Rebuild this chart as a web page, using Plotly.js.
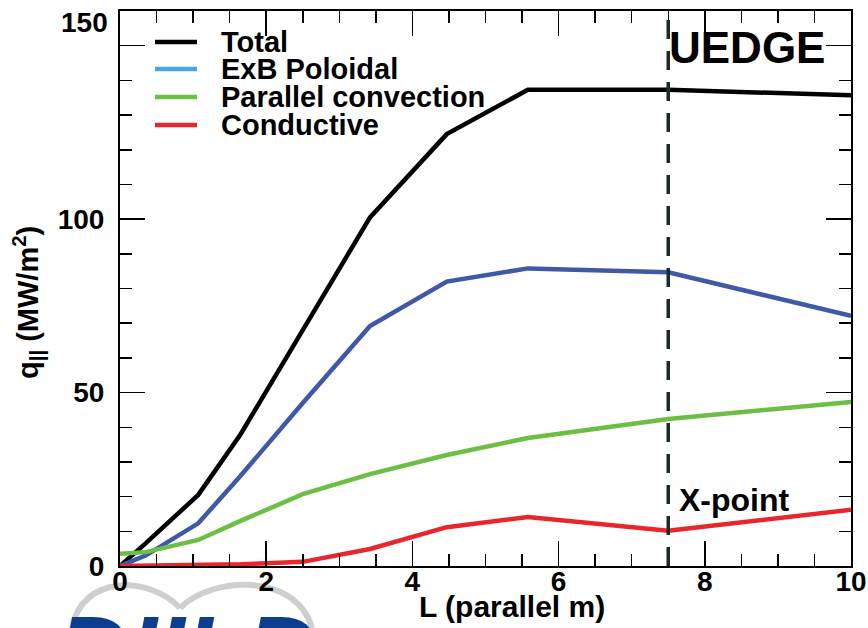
<!DOCTYPE html>
<html>
<head>
<meta charset="utf-8">
<script src="https://cdn.plot.ly/plotly-3.0.1.min.js"></script>
<style>html,body{margin:0;padding:0;background:#fff;}#chart{width:868px;height:628px;}</style>
</head>
<body>
<div id="chart"></div>
<script>
// Data
const L = [0, 0.35, 1.07, 1.65, 2.5, 3.42, 4.47, 5.58, 7.5, 10];
const total = [0, 6.5, 20.5, 38, 68, 100.5, 124.5, 137.3, 137.3, 135.7];
const exbPoloidal = [0, 3.0, 12.3, 26, 47, 69.2, 82, 85.8, 84.7, 72.1];
const parallelConvection = [3.5, 4.0, 7.5, 13.0, 20.7, 26.5, 32, 36.9, 42.4, 47.3];
const conductive = [0, 0.1, 0.3, 0.5, 1.2, 4.9, 11.2, 14.1, 10.2, 16.2];
const seriesNames = ['Total', 'ExB Poloidal', 'Parallel convection', 'Conductive'];
const xTickVals = [0, 2, 4, 6, 8, 10];
const yTickVals = [0, 50, 100, 150];
const yTickText = ['0', '50', '100', ''];
const xPointL = 7.5;

const lineColors = ['#000000', '#3f58a8', '#6cbf44', '#e8262b'];
const legendColors = ['#000000', '#45a6de', '#6cbf44', '#e8262b'];
const FONT = 'Liberation Sans, Arial, sans-serif';

// plot area in pixels (for decoration placement)
const PL = 120, PR = 851, PT = 11, PB = 566;
const px = x => (x - PL) / (PR - PL);
const py = y => (PB - y) / (PB - PT);

const ys = [total, exbPoloidal, parallelConvection, conductive];
const traces = ys.map((y, i) => ({
  x: L, y: y, type: 'scatter', mode: 'lines', name: seriesNames[i],
  line: {color: lineColors[i], width: 4.5}, showlegend: false, cliponaxis: true
}));

const shapes = [
  {type: 'line', xref: 'x', yref: 'paper', x0: xPointL, x1: xPointL, y0: 0, y1: 1,
   line: {color: '#1b2b28', width: 3.5, dash: '19px,12px'}}
];
const annotations = [];
const legendRows = [42, 69, 97, 125];
seriesNames.forEach((n, i) => {
  shapes.push({type: 'line', xref: 'paper', yref: 'paper', x0: px(155), x1: px(197),
    y0: py(legendRows[i]), y1: py(legendRows[i]), line: {color: legendColors[i], width: 4.5}});
  annotations.push({xref: 'paper', yref: 'paper', x: px(219), y: py(legendRows[i]),
    xanchor: 'left', yanchor: 'middle', text: n, showarrow: false,
    font: {family: FONT, size: 29, color: '#000', weight: 'bold'}});
});
annotations.push({xref: 'paper', yref: 'paper', x: px(747), y: py(48), xanchor: 'center', yanchor: 'middle',
  text: 'UEDGE', showarrow: false, font: {family: FONT, size: 44, color: '#000', weight: 'bold'}});
annotations.push({xref: 'paper', yref: 'paper', x: px(677), y: py(500), xanchor: 'left', yanchor: 'middle',
  text: 'X-point', showarrow: false, font: {family: FONT, size: 32, color: '#000', weight: 'bold'}});
annotations.push({xref: 'paper', yref: 'paper', x: px(110), y: py(22), xanchor: 'right', yanchor: 'middle',
  text: '150', showarrow: false, font: {family: FONT, size: 28, color: '#000', weight: 'bold'}});
annotations.push({xref: 'paper', yref: 'paper', x: px(512), y: py(606), xanchor: 'center', yanchor: 'middle',
  text: 'L (parallel m)', showarrow: false, font: {family: FONT, size: 30, color: '#000', weight: 'bold'}});
annotations.push({xref: 'paper', yref: 'paper', x: px(28), y: py(303), xanchor: 'center', yanchor: 'middle',
  textangle: -90, text: 'q<sub>||</sub> (MW/m<sup>2</sup>)', showarrow: false,
  font: {family: FONT, size: 29, color: '#000', weight: 'bold'}});
// logo (decoration, bottom-left)
function P(pts) { return pts.map(p => px(p[0]).toFixed(4) + ',' + py(p[1]).toFixed(4)); }
const a1 = P([[72, 628], [82, 574], [150, 576], [180, 608]]);
const a2 = P([[180, 608], [212, 576], [296, 572], [312, 628]]);
shapes.push({type: 'path', xref: 'paper', yref: 'paper', layer: 'below',
  path: 'M' + a1[0] + ' C' + a1[1] + ' ' + a1[2] + ' ' + a1[3], line: {color: '#cfcfcf', width: 6}});
shapes.push({type: 'path', xref: 'paper', yref: 'paper', layer: 'below',
  path: 'M' + a2[0] + ' C' + a2[1] + ' ' + a2[2] + ' ' + a2[3], line: {color: '#cfcfcf', width: 6}});
annotations.push({xref: 'paper', yref: 'paper', x: px(187), y: py(593), xanchor: 'center', yanchor: 'top',
  text: '<i>DIII-D</i>', showarrow: false, font: {family: FONT, size: 100, color: '#0d3d8e', weight: 'bold'}});

const axisCommon = {
  showline: true, linecolor: '#000', linewidth: 2, mirror: 'allticks',
  ticks: 'inside', ticklen: 25, tickwidth: 1.5, tickcolor: '#000',
  showgrid: false, zeroline: false,
  tickfont: {family: FONT, size: 28, color: '#000', weight: 'bold'}
};
const layout = {
  width: 868, height: 628,
  margin: {l: PL, r: 868 - PR, t: PT, b: 628 - PB, pad: 0},
  paper_bgcolor: '#fff', plot_bgcolor: '#fff', showlegend: false,
  xaxis: Object.assign({}, axisCommon, {range: [0, 10], tickvals: xTickVals, ticklabelstandoff: -11,
    minor: {dtick: 0.5, ticks: 'inside', ticklen: 12, tickwidth: 1.5, tickcolor: '#000', showgrid: false}}),
  yaxis: Object.assign({}, axisCommon, {range: [0, 160], tickvals: yTickVals, ticktext: yTickText, ticklabelstandoff: 8,
    minor: {dtick: 10, ticks: 'inside', ticklen: 12, tickwidth: 1.5, tickcolor: '#000', showgrid: false}}),
  shapes: shapes, annotations: annotations
};
Plotly.newPlot('chart', traces, layout, {displayModeBar: false, staticPlot: true});
</script>
</body>
</html>
